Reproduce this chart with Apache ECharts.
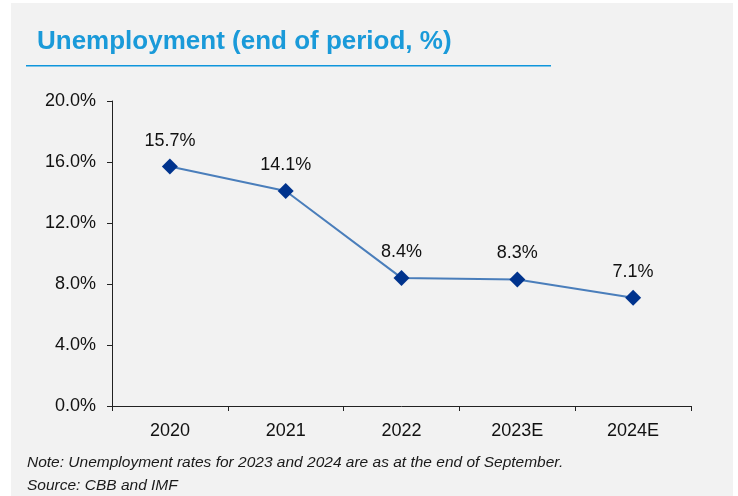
<!DOCTYPE html>
<html>
<head>
<meta charset="utf-8">
<script src="https://cdn.jsdelivr.net/npm/echarts@6/dist/echarts.min.js"></script>
<style>
  html, body { margin: 0; padding: 0; background: #fff; }
  #chart { width: 738px; height: 496px; }
</style>
</head>
<body>
<div id="chart"></div>
<script>
const years = ['2020', '2021', '2022', '2023E', '2024E'];
const unemployment = [15.7, 14.1, 8.4, 8.3, 7.1];
const yTicks = { min: 0, max: 20, interval: 4 };

const font = '"Liberation Sans", Arial, sans-serif';
const chart = echarts.init(document.getElementById('chart'));

chart.setOption({
  backgroundColor: '#fff',
  textStyle: { fontFamily: font },
  graphic: [
    {
      type: 'rect', silent: true, z: -10,
      shape: { x: 11, y: 3, width: 722, height: 493 },
      style: { fill: '#f2f2f2' }
    },
    {
      type: 'text', x: 37, y: 42,
      style: {
        text: 'Unemployment (end of period, %)',
        font: 'bold 26px ' + font,
        fill: '#1a9ad9',
        verticalAlign: 'middle'
      }
    },
    {
      type: 'rect', silent: true, z: 10,
      shape: { x: 26, y: 65, width: 525, height: 1.5 },
      style: { fill: '#0f96dc', stroke: null }
    },
    {
      type: 'text', x: 27, y: 463,
      style: {
        text: 'Note: Unemployment rates for 2023 and 2024 are as at the end of September.',
        font: 'italic 15.5px ' + font,
        fill: '#1a1a1a',
        verticalAlign: 'middle'
      }
    },
    {
      type: 'text', x: 27, y: 486,
      style: {
        text: 'Source: CBB and IMF',
        font: 'italic 15.5px ' + font,
        fill: '#1a1a1a',
        verticalAlign: 'middle'
      }
    }
  ],
  grid: { left: 112, right: 47, top: 101, bottom: 90 },
  xAxis: {
    type: 'category',
    data: years,
    axisLine: { lineStyle: { color: '#222', width: 1 } },
    axisTick: { show: true, length: 5, lineStyle: { color: '#222' } },
    axisLabel: { color: '#111', fontSize: 18, margin: 16 }
  },
  yAxis: {
    type: 'value',
    min: yTicks.min,
    max: yTicks.max,
    interval: yTicks.interval,
    splitLine: { show: false },
    axisLine: { show: true, lineStyle: { color: '#222', width: 1 } },
    axisTick: { show: true, length: 5, lineStyle: { color: '#222' } },
    axisLabel: {
      color: '#111', fontSize: 18, margin: 16,
      formatter: v => v.toFixed(1) + '%'
    }
  },
  series: [
    {
      type: 'line',
      data: unemployment,
      symbol: 'diamond',
      symbolSize: 16,
      lineStyle: { color: '#4a7ebb', width: 2 },
      itemStyle: { color: '#00338d' },
      label: {
        show: true,
        position: 'top',
        distance: 9,
        color: '#111',
        fontSize: 18,
        formatter: p => p.value.toFixed(1) + '%'
      }
    }
  ]
});
</script>
</body>
</html>
